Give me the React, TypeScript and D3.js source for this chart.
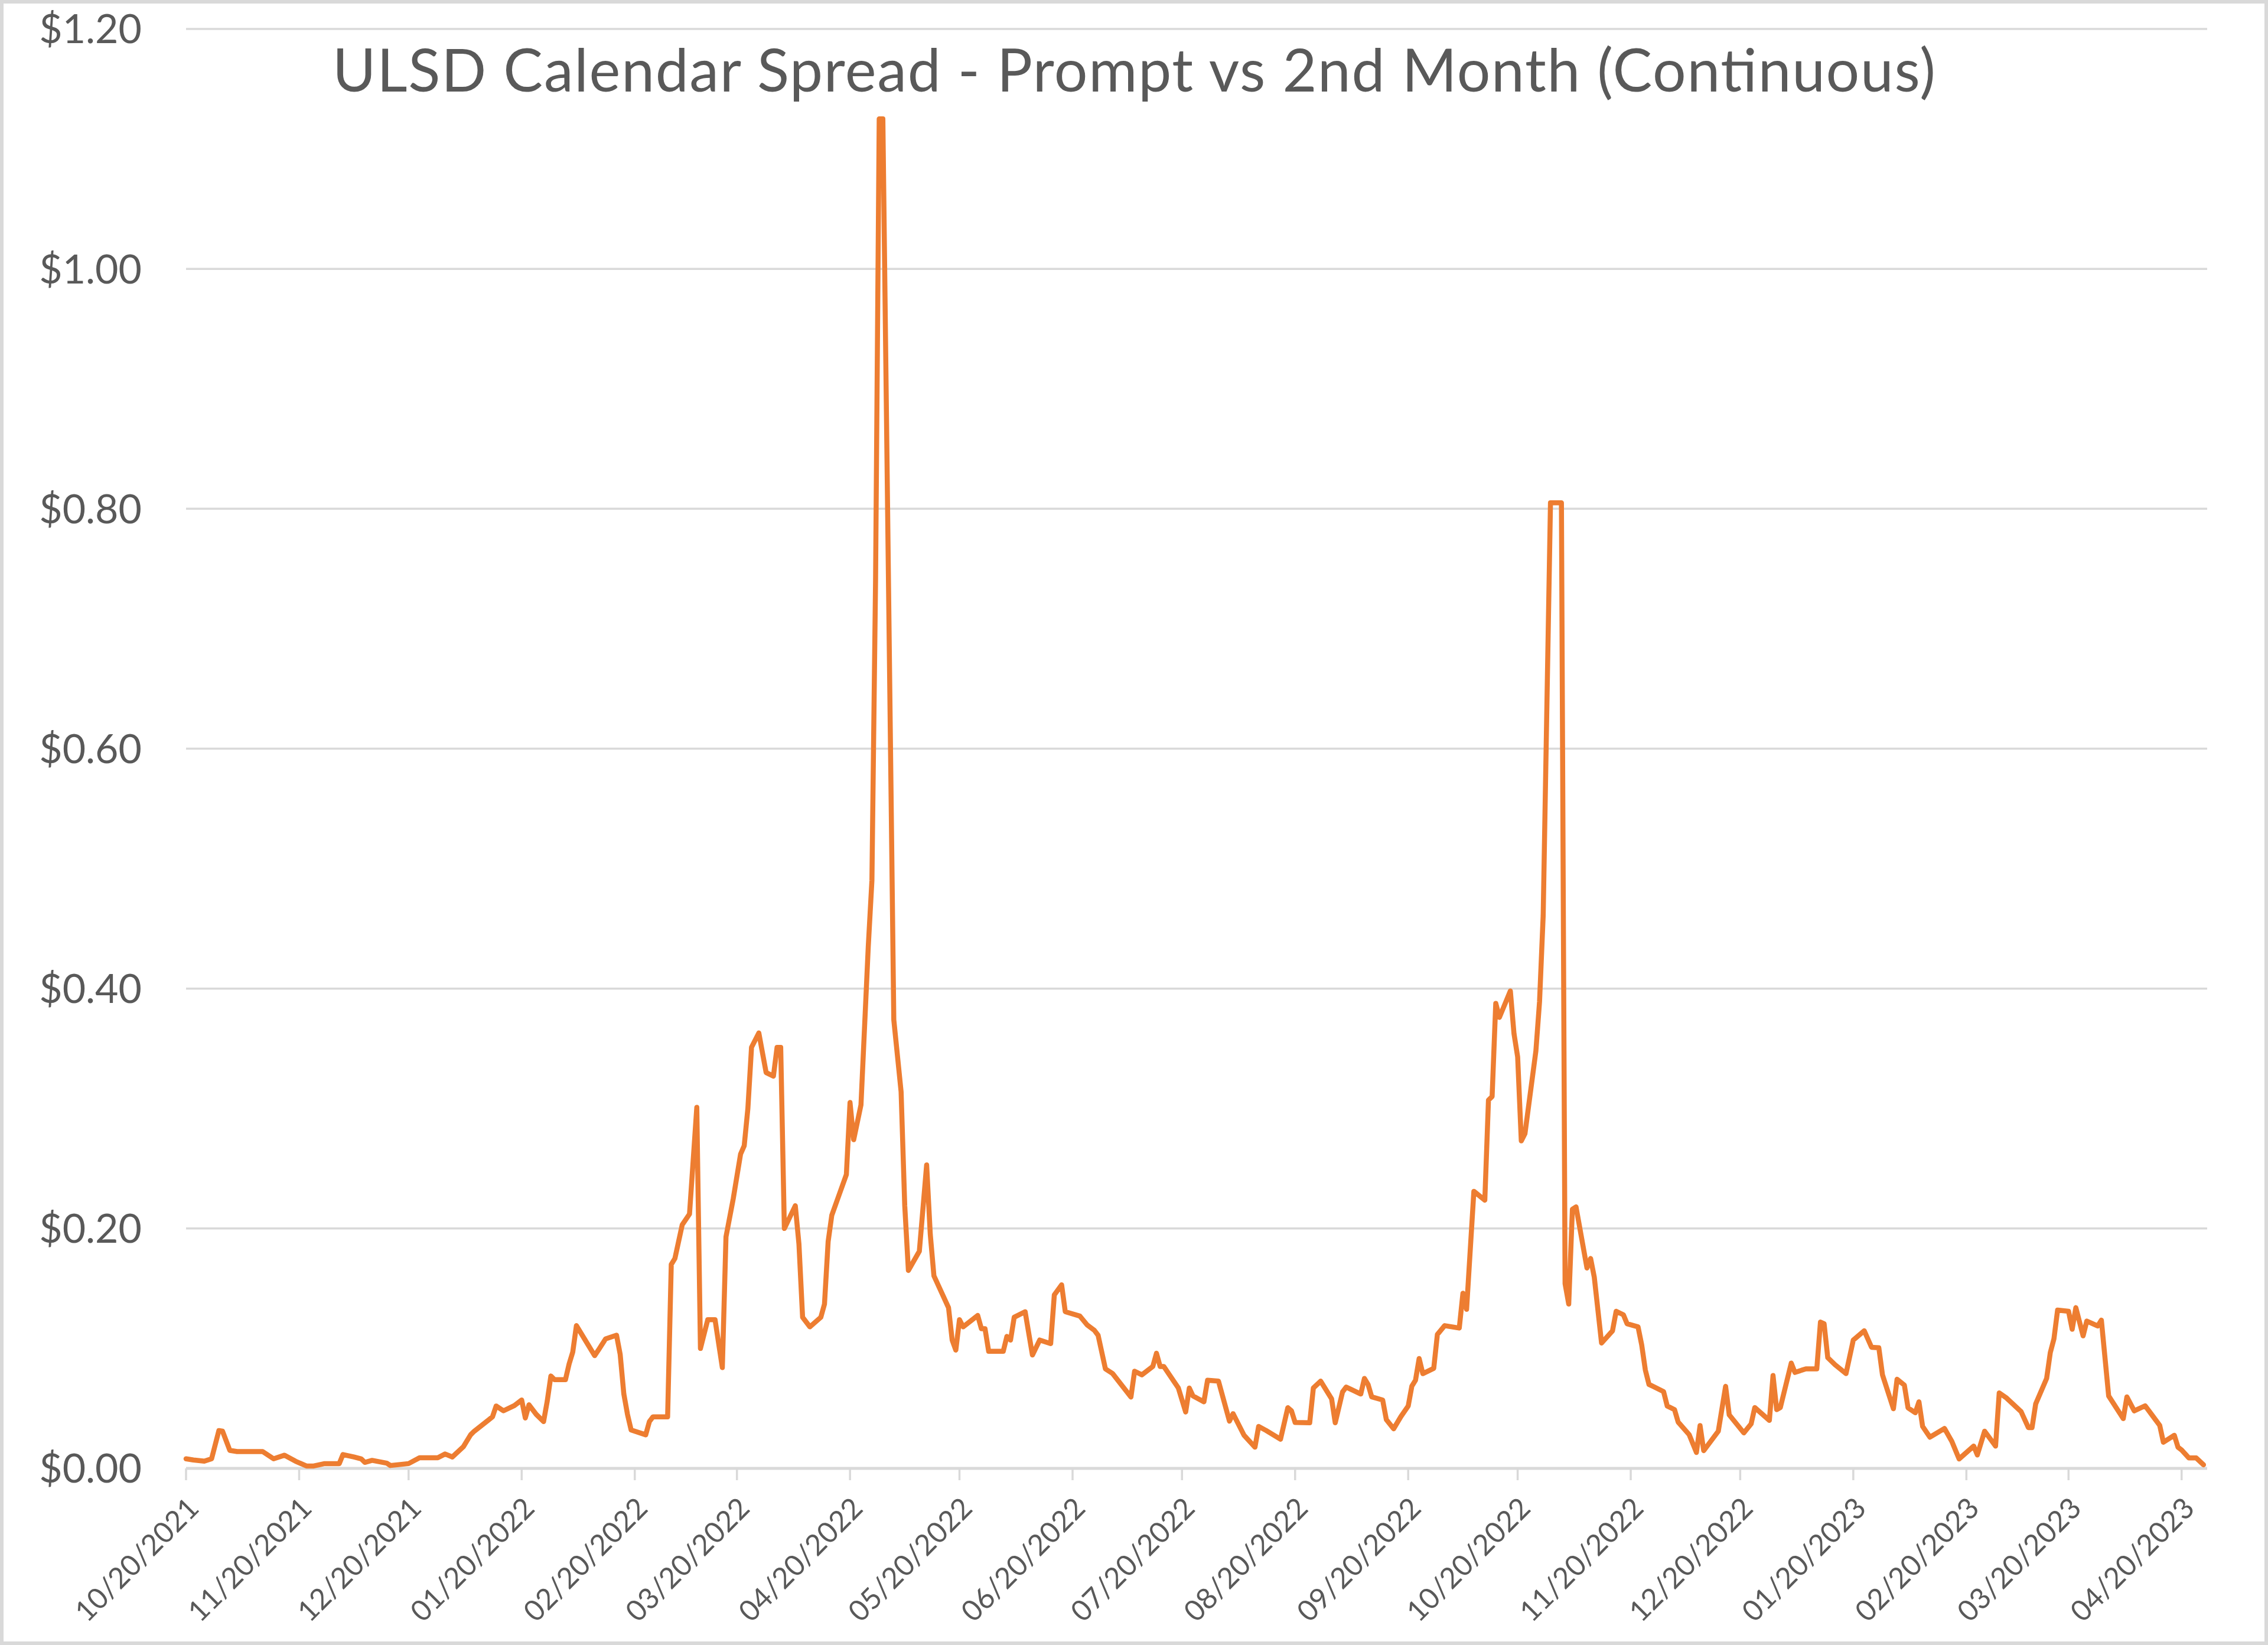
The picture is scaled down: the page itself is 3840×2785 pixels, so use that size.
import React from "react";
import * as d3 from "d3";

// ---- data ----
const dates: string[] = [
  "2021-10-20","2021-10-22","2021-10-25","2021-10-27","2021-10-29","2021-10-30",
  "2021-11-01","2021-11-03","2021-11-10","2021-11-13","2021-11-16","2021-11-19","2021-11-22","2021-11-24","2021-11-27",
  "2021-12-01","2021-12-02","2021-12-05","2021-12-07","2021-12-08","2021-12-10","2021-12-14","2021-12-15","2021-12-20","2021-12-23","2021-12-28","2021-12-30",
  "2022-01-01","2022-01-04","2022-01-06","2022-01-07","2022-01-11","2022-01-12","2022-01-13","2022-01-15","2022-01-18","2022-01-20","2022-01-21","2022-01-22","2022-01-24","2022-01-26","2022-01-27","2022-01-28","2022-01-29",
  "2022-02-01","2022-02-02","2022-02-03","2022-02-04","2022-02-07","2022-02-09","2022-02-10","2022-02-12","2022-02-15","2022-02-16","2022-02-17","2022-02-18","2022-02-19","2022-02-23","2022-02-24","2022-02-25",
  "2022-03-01","2022-03-02","2022-03-03","2022-03-05","2022-03-07","2022-03-09","2022-03-10","2022-03-12","2022-03-14","2022-03-16","2022-03-17","2022-03-19","2022-03-21","2022-03-22","2022-03-23","2022-03-24","2022-03-26","2022-03-28","2022-03-30","2022-03-31",
  "2022-04-01","2022-04-02","2022-04-05","2022-04-06","2022-04-07","2022-04-09","2022-04-12","2022-04-13","2022-04-14","2022-04-15","2022-04-19","2022-04-20","2022-04-21","2022-04-23","2022-04-25","2022-04-26","2022-04-27","2022-04-28","2022-04-29",
  "2022-05-02","2022-05-04","2022-05-05","2022-05-06","2022-05-09","2022-05-11","2022-05-12","2022-05-13","2022-05-17","2022-05-18","2022-05-19","2022-05-20","2022-05-21","2022-05-25","2022-05-26","2022-05-27","2022-05-28",
  "2022-06-01","2022-06-02","2022-06-03","2022-06-04","2022-06-07","2022-06-09","2022-06-11","2022-06-14","2022-06-15","2022-06-17","2022-06-18","2022-06-22","2022-06-24","2022-06-26","2022-06-27","2022-06-29",
  "2022-07-01","2022-07-06","2022-07-07","2022-07-09","2022-07-12","2022-07-13","2022-07-14","2022-07-15","2022-07-19","2022-07-21","2022-07-22","2022-07-23","2022-07-26","2022-07-27","2022-07-30",
  "2022-08-02","2022-08-03","2022-08-06","2022-08-09","2022-08-10","2022-08-12","2022-08-16","2022-08-18","2022-08-19","2022-08-20","2022-08-24","2022-08-25","2022-08-27","2022-08-30","2022-08-31",
  "2022-09-02","2022-09-03","2022-09-07","2022-09-08","2022-09-09","2022-09-10","2022-09-13","2022-09-14","2022-09-16","2022-09-18","2022-09-20","2022-09-21","2022-09-22","2022-09-23","2022-09-24","2022-09-27","2022-09-28","2022-09-30",
  "2022-10-04","2022-10-05","2022-10-06","2022-10-08","2022-10-11","2022-10-12","2022-10-13","2022-10-14","2022-10-15","2022-10-18","2022-10-19","2022-10-20","2022-10-21","2022-10-22","2022-10-25","2022-10-26","2022-10-27","2022-10-29",
  "2022-11-01","2022-11-02","2022-11-03","2022-11-04","2022-11-05","2022-11-08","2022-11-09","2022-11-10","2022-11-12","2022-11-15","2022-11-16","2022-11-18","2022-11-19","2022-11-22","2022-11-23","2022-11-24","2022-11-25","2022-11-29","2022-11-30",
  "2022-12-02","2022-12-03","2022-12-06","2022-12-08","2022-12-09","2022-12-10","2022-12-14","2022-12-16","2022-12-17","2022-12-21","2022-12-23","2022-12-24","2022-12-28","2022-12-29","2022-12-30","2022-12-31",
  "2023-01-03","2023-01-04","2023-01-07","2023-01-10","2023-01-11","2023-01-12","2023-01-13","2023-01-15","2023-01-18","2023-01-20","2023-01-23","2023-01-25","2023-01-27","2023-01-28","2023-01-31",
  "2023-02-01","2023-02-03","2023-02-04","2023-02-06","2023-02-07","2023-02-08","2023-02-10","2023-02-14","2023-02-16","2023-02-18","2023-02-22","2023-02-23","2023-02-25","2023-02-28",
  "2023-03-01","2023-03-03","2023-03-07","2023-03-09","2023-03-10","2023-03-11","2023-03-14","2023-03-15","2023-03-16","2023-03-17","2023-03-20","2023-03-21","2023-03-22","2023-03-24","2023-03-25","2023-03-28","2023-03-29","2023-03-31",
  "2023-04-04","2023-04-05","2023-04-07","2023-04-10","2023-04-12","2023-04-14","2023-04-15","2023-04-18","2023-04-19","2023-04-20","2023-04-22","2023-04-24","2023-04-26",
];

const spread: number[] = [
  0.008,0.007,0.006,0.008,0.0315,0.031,
  0.015,0.014,0.014,0.008,0.011,0.006,0.002,0.002,0.004,
  0.004,0.0115,0.0095,0.008,0.005,0.0067,0.0044,0.0024,0.004,0.0089,0.0089,0.012,
  0.0095,0.018,0.028,0.031,0.0406,0.043,0.052,0.048,0.0524,0.057,0.042,0.053,0.045,0.039,0.056,0.077,0.074,
  0.074,0.087,0.097,0.119,0.104,0.094,0.0985,0.108,0.111,0.095,0.062,0.045,0.032,0.028,0.039,0.043,
  0.043,0.17,0.175,0.203,0.212,0.301,0.1,0.124,0.124,0.084,0.193,0.225,0.262,0.269,0.3,0.351,0.363,0.33,0.327,0.351,
  0.351,0.2,0.219,0.187,0.126,0.118,0.126,0.137,0.189,0.211,0.245,0.305,0.274,0.303,0.435,0.49,0.74,1.125,1.125,
  0.374,0.314,0.219,0.165,0.181,0.253,0.195,0.1605,0.134,0.107,0.0986,0.124,0.118,0.1275,0.1165,0.1165,0.0976,
  0.0976,0.11,0.107,0.126,0.1306,0.0945,0.107,0.104,0.1447,0.153,0.1306,0.127,0.1196,0.115,0.111,0.083,
  0.079,0.0595,0.081,0.078,0.085,0.096,0.085,0.085,0.067,0.047,0.067,0.0604,0.0555,0.0735,0.0727,
  0.0394,0.0456,0.0276,0.0177,0.035,0.0317,0.0243,0.0506,0.048,0.0383,0.038,0.067,0.0727,0.058,0.038,
  0.0637,0.0678,0.062,0.075,0.07,0.0596,0.057,0.0407,0.033,0.0432,0.052,0.0686,0.0735,0.0916,0.079,0.0834,0.1117,0.119,
  0.117,0.146,0.1326,0.231,0.2236,0.307,0.31,0.3877,0.376,0.398,0.3624,0.343,0.273,0.279,0.348,0.389,0.461,0.805,
  0.805,0.154,0.137,0.216,0.218,0.167,0.175,0.1595,0.1045,0.1147,0.131,0.128,0.1206,0.118,0.103,0.082,0.07,0.064,0.052,
  0.049,0.0386,0.0282,0.0133,0.0357,0.0148,0.031,0.0684,0.0446,0.0296,0.0371,0.0507,0.04,0.0774,0.049,0.0507,
  0.0878,0.08,0.083,0.083,0.122,0.1206,0.0923,0.0864,0.079,0.107,0.1147,0.101,0.1006,0.078,0.0497,
  0.0743,0.0694,0.0505,0.0464,0.0555,0.035,0.026,0.0333,0.0226,0.0079,0.0186,0.0112,0.031,0.0186,
  0.0629,0.0587,0.0473,0.034,0.034,0.0538,0.075,0.0965,0.108,0.132,0.131,0.116,0.134,0.1105,0.1228,0.1187,0.1236,0.0604,
  0.0415,0.0596,0.048,0.0522,0.044,0.0358,0.0218,0.0276,0.0177,0.0153,0.0087,0.0087,0.003,
];

const xTickLabels: string[] = [
  "10/20/2021","11/20/2021","12/20/2021","01/20/2022","02/20/2022","03/20/2022",
  "04/20/2022","05/20/2022","06/20/2022","07/20/2022","08/20/2022","09/20/2022",
  "10/20/2022","11/20/2022","12/20/2022","01/20/2023","02/20/2023","03/20/2023","04/20/2023",
];

const yTicks: number[] = [0, 0.2, 0.4, 0.6, 0.8, 1.0, 1.2];

const chartTitle = "ULSD Calendar Spread - Prompt vs 2nd Month (Continuous)";

// ---- layout ----
const W = 3840;
const H = 2785;
const PLOT = { left: 315, right: 3737, top: 49, bottom: 2486 };
const FONT = "Lato, 'Open Sans', sans-serif";
const TEXT = "#595959";
const GRID = "#d9d9d9";
const LINE = "#ED7D31";

export default function App() {
  const parse = d3.utcParse("%Y-%m-%d");
  const parseTick = d3.utcParse("%m/%d/%Y");
  const n = Math.min(dates.length, spread.length);
  const data = d3.range(n).map((i) => ({ date: parse(dates[i]) as Date, v: spread[i] }));

  const first = data[0].date;
  const last = data[data.length - 1].date;
  const x = d3
    .scaleUtc()
    .domain([first, d3.utcDay.offset(last, 1)])
    .range([PLOT.left, PLOT.right]);
  const y = d3.scaleLinear().domain([0, 1.2]).range([PLOT.bottom, PLOT.top]);

  const line = d3
    .line<{ date: Date; v: number }>()
    .x((d) => x(d.date))
    .y((d) => y(d.v));

  const fmt = d3.format("$.2f");

  return (
    <svg
      width={W}
      height={H}
      style={{ position: "absolute", left: 0, top: 0, background: "#fff" }}
      fontFamily={FONT}
    >
      <rect x={0} y={0} width={W} height={H} fill="#fff" />
      <rect x={3} y={3} width={W - 6} height={H - 6} fill="none" stroke={GRID} strokeWidth={6} />

      {/* gridlines */}
      {yTicks.map((t) => (
        <line
          key={"g" + t}
          x1={PLOT.left}
          x2={PLOT.right}
          y1={y(t)}
          y2={y(t)}
          stroke={GRID}
          strokeWidth={t === 0 ? 5 : 3.5}
        />
      ))}

      {/* y labels */}
      {yTicks.map((t) => (
        <text
          key={"yl" + t}
          x={240}
          y={y(t)}
          dy="0.36em"
          textAnchor="end"
          fontSize={68}
          fill={TEXT}
        >
          {fmt(t)}
        </text>
      ))}

      {/* x ticks and labels */}
      {xTickLabels.map((lab) => {
        const tx = x(parseTick(lab) as Date);
        return (
          <g key={lab}>
            <line x1={tx} x2={tx} y1={PLOT.bottom} y2={PLOT.bottom + 20} stroke={GRID} strokeWidth={3.5} />
            <text
              transform={`translate(${tx + 12},${PLOT.bottom + 58}) rotate(-45)`}
              textAnchor="end"
              dy="0.36em"
              fontSize={49}
              fill={TEXT}
            >
              {lab}
            </text>
          </g>
        );
      })}

      {/* series */}
      <path
        d={line(data) || ""}
        fill="none"
        stroke={LINE}
        strokeWidth={8.5}
        strokeLinejoin="round"
        strokeLinecap="round"
      />

      {/* title */}
      <text
        x={1920}
        y={155}
        textAnchor="middle"
        fontSize={100}
        fill={TEXT}
        textLength={2714}
        lengthAdjust="spacing"
      >
        {chartTitle}
      </text>
    </svg>
  );
}
